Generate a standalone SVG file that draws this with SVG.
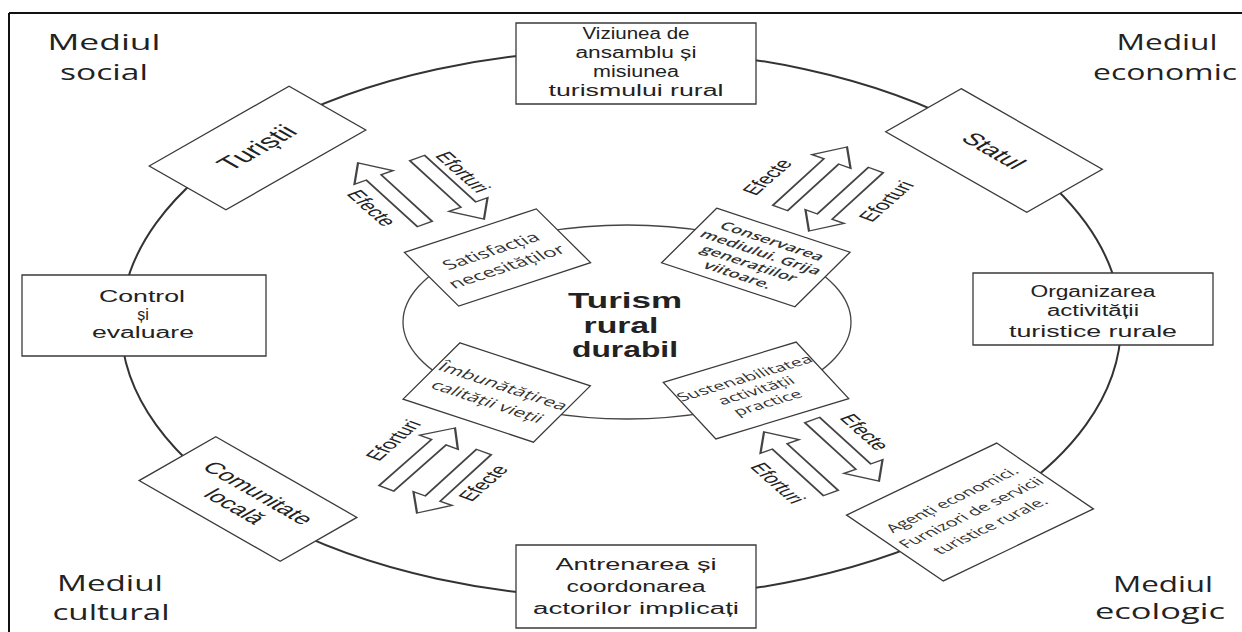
<svg xmlns="http://www.w3.org/2000/svg" width="1242" height="632" viewBox="0 0 1242 632">
<defs>
<style>
.box{fill:#fff;stroke:#3a3a3a;stroke-width:1.3;vector-effect:non-scaling-stroke}
.arr{fill:#fff;stroke:#444;stroke-width:1.3;vector-effect:non-scaling-stroke}
.ring{fill:none;stroke:#333;stroke-width:2}
.ring2{fill:none;stroke:#444;stroke-width:1.3}
.t{font-family:"Liberation Sans",Arial,sans-serif;fill:#222;text-anchor:middle}
.c{font-family:"Open Sans","Liberation Sans",sans-serif;fill:#333;text-anchor:middle}
.env{font-family:"Open Sans","Liberation Sans",sans-serif;fill:#222;font-size:21px;text-anchor:middle}
.lbl{font-family:"Liberation Sans",Arial,sans-serif;fill:#222;font-size:14px;text-anchor:middle}
</style>
<path id="arrow" d="M0,0 L-17,-13 L-17,-5 L-72,-5 L-72,5 L-17,5 L-17,13 Z"/>
</defs>
<rect width="1242" height="632" fill="#fff"/>
<g id="frame" stroke="#111" stroke-width="2" fill="none">
<line x1="9" y1="13" x2="1242" y2="13"/>
<line x1="9" y1="13" x2="9" y2="632"/>
</g>
<ellipse class="ring" cx="621" cy="324" rx="500" ry="274"/>
<ellipse class="ring2" cx="627" cy="322" rx="224" ry="97"/>

<g id="env-labels">
<text class="env" x="104" y="50" textLength="113" lengthAdjust="spacingAndGlyphs">Mediul</text>
<text class="env" x="104" y="80" textLength="88" lengthAdjust="spacingAndGlyphs">social</text>
<text class="env" x="1167" y="50" textLength="101" lengthAdjust="spacingAndGlyphs">Mediul</text>
<text class="env" x="1165" y="80" textLength="144" lengthAdjust="spacingAndGlyphs">economic</text>
<text class="env" x="110" y="591" textLength="106" lengthAdjust="spacingAndGlyphs">Mediul</text>
<text class="env" x="111" y="620" textLength="117" lengthAdjust="spacingAndGlyphs">cultural</text>
<text class="env" x="1163" y="592" textLength="100" lengthAdjust="spacingAndGlyphs">Mediul</text>
<text class="env" x="1160" y="619" textLength="130" lengthAdjust="spacingAndGlyphs">ecologic</text>
</g>

<g id="center">
<text class="t" x="625" y="308" font-size="22" font-weight="bold" textLength="114" lengthAdjust="spacingAndGlyphs">Turism</text>
<text class="t" x="621" y="333" font-size="22" font-weight="bold" textLength="75" lengthAdjust="spacingAndGlyphs">rural</text>
<text class="t" x="625" y="357" font-size="22" font-weight="bold" textLength="106" lengthAdjust="spacingAndGlyphs">durabil</text>
</g>

<g id="viziunea">
<rect class="box" x="516" y="23" width="240" height="81"/>
<text class="t" font-size="16" x="636" y="39" textLength="107" lengthAdjust="spacingAndGlyphs">Viziunea de</text>
<text class="t" font-size="16" x="636" y="58" textLength="121" lengthAdjust="spacingAndGlyphs">ansamblu și</text>
<text class="t" font-size="16" x="636" y="77" textLength="86" lengthAdjust="spacingAndGlyphs">misiunea</text>
<text class="t" font-size="16" x="636" y="96" textLength="175" lengthAdjust="spacingAndGlyphs">turismului rural</text>
</g>

<g id="organizarea">
<rect class="box" x="973" y="273" width="240" height="72"/>
<text class="t" font-size="16" x="1093" y="297" textLength="125" lengthAdjust="spacingAndGlyphs">Organizarea</text>
<text class="t" font-size="16" x="1093" y="316" textLength="92" lengthAdjust="spacingAndGlyphs">activității</text>
<text class="t" font-size="16" x="1093" y="337" textLength="168" lengthAdjust="spacingAndGlyphs">turistice rurale</text>
</g>

<g id="control">
<rect class="box" x="22" y="275" width="244" height="81"/>
<text class="t" font-size="16" x="142" y="302" textLength="86" lengthAdjust="spacingAndGlyphs">Control</text>
<text class="t" font-size="16" x="143" y="320">și</text>
<text class="t" font-size="16" x="143" y="338" textLength="102" lengthAdjust="spacingAndGlyphs">evaluare</text>
</g>

<g id="antrenarea">
<rect class="box" x="516" y="545" width="240" height="83"/>
<text class="t" font-size="16" x="636" y="570" textLength="161" lengthAdjust="spacingAndGlyphs">Antrenarea și</text>
<text class="t" font-size="16" x="636" y="592" textLength="139" lengthAdjust="spacingAndGlyphs">coordonarea</text>
<text class="t" font-size="16" x="636" y="614" textLength="206" lengthAdjust="spacingAndGlyphs">actorilor implicați</text>
</g>

<g id="turistii" transform="translate(257.5,148) scale(1.75,1) rotate(-45)">
<rect class="box" x="-56.5" y="-31" width="113" height="62"/>
<text class="t" font-size="19" y="6">Turiștii</text>
</g>

<g id="statul" transform="translate(994,150.5) scale(1.75,1) rotate(45)">
<rect class="box" x="-57" y="-30.5" width="114" height="61"/>
<text class="t" font-size="17" y="6">Statul</text>
</g>

<g id="comunitate" transform="translate(248,499) scale(1.75,1) rotate(45)">
<rect class="box" x="-57" y="-31" width="114" height="62"/>
<text class="t" font-size="16" y="-3">Comunitate</text>
<text class="t" font-size="16" y="16">locală</text>
</g>

<g id="agenti" transform="translate(970,512) scale(1.75,1) rotate(-40)">
<rect class="box" x="-56" y="-43" width="112" height="86"/>
<text class="c" font-size="11.5" y="-12">Agenți economici.</text>
<text class="c" font-size="11.5" y="5">Furnizori de servicii</text>
<text class="c" font-size="11.5" y="22">turistice rurale.</text>
</g>

<g id="satisfactia" transform="translate(497.5,257.5) scale(1.75,1) rotate(-30)">
<rect class="box" x="-43.5" y="-31" width="87" height="62"/>
<text class="c" font-size="13" y="-3">Satisfacția</text>
<text class="c" font-size="13" y="15">necesităților</text>
</g>

<g id="conservarea" transform="translate(755.8,257.5) scale(1.75,1) rotate(30)">
<rect class="box" x="-44" y="-31.5" width="88" height="63"/>
<text class="c" font-size="11" font-weight="600" y="-15">Conservarea</text>
<text class="c" font-size="11" font-weight="600" y="-2">mediului. Grija</text>
<text class="c" font-size="11" font-weight="600" y="11">generațiilor</text>
<text class="c" font-size="11" font-weight="600" y="24">viitoare.</text>
</g>

<g id="imbunatatirea" transform="translate(496.7,392.5) scale(1.75,1) rotate(30)">
<rect class="box" x="-43" y="-32.5" width="86" height="65"/>
<text class="c" font-size="12.5" y="-3">Îmbunătățirea</text>
<text class="c" font-size="12.5" y="15">calității vieții</text>
</g>

<g id="sustenabilitatea" transform="translate(756,390.5) scale(1.75,1) rotate(-28)">
<rect class="box" x="-43" y="-32" width="86" height="64"/>
<text class="c" font-size="11.5" y="-10">Sustenabilitatea</text>
<text class="c" font-size="11.5" y="4">activității</text>
<text class="c" font-size="11.5" y="18">practice</text>
</g>

<g id="connectors">
<use href="#arrow" class="arr" transform="translate(358,163) scale(1.75,1) rotate(-122)"/>
<use href="#arrow" class="arr" transform="translate(484,219) scale(1.75,1) rotate(58)"/>
<use href="#arrow" class="arr" transform="translate(847,147) scale(1.75,1) rotate(-58)"/>
<use href="#arrow" class="arr" transform="translate(809,231) scale(1.75,1) rotate(122)"/>
<use href="#arrow" class="arr" transform="translate(455,428) scale(1.75,1) rotate(-57)"/>
<use href="#arrow" class="arr" transform="translate(417,513) scale(1.75,1) rotate(122)"/>
<use href="#arrow" class="arr" transform="translate(879,481) scale(1.75,1) rotate(58)"/>
<use href="#arrow" class="arr" transform="translate(764,432) scale(1.75,1) rotate(-122)"/>
<g id="arrow-labels">
<text class="lbl" transform="translate(463,172) scale(1.75,1) rotate(57)" y="5">Eforturi</text>
<text class="lbl" transform="translate(372,208) scale(1.75,1) rotate(57)" y="5">Efecte</text>
<text class="lbl" transform="translate(767,177) scale(1.75,1) rotate(-57)" y="5">Efecte</text>
<text class="lbl" transform="translate(886,201) scale(1.75,1) rotate(-57)" y="5">Eforturi</text>
<text class="lbl" transform="translate(393,440) scale(1.75,1) rotate(-57)" y="5">Eforturi</text>
<text class="lbl" transform="translate(483,483) scale(1.75,1) rotate(-57)" y="5">Efecte</text>
<text class="lbl" transform="translate(865,432) scale(1.75,1) rotate(57)" y="5">Efecte</text>
<text class="lbl" transform="translate(778,483) scale(1.75,1) rotate(57)" y="5">Eforturi</text>
</g>
</g>
</svg>
